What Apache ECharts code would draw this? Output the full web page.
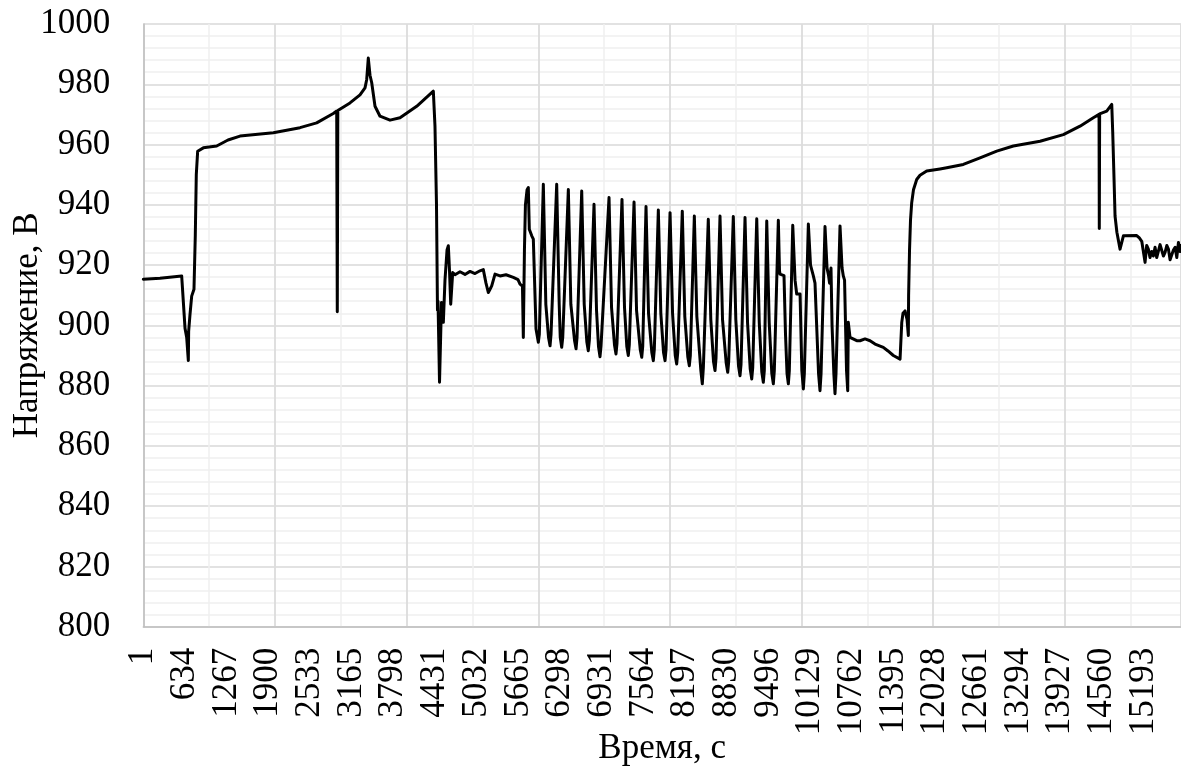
<!DOCTYPE html>
<html>
<head>
<meta charset="utf-8">
<script src="https://cdn.jsdelivr.net/npm/echarts@6/dist/echarts.min.js"></script>
<style>
html,body{margin:0;padding:0;background:#fff;}
#chart{width:1181px;height:774px;}
</style>
</head>
<body>
<div id="chart"></div>
<script>
// Category labels shown on the x axis (every 633rd sample)
const xTickLabels = ['1','634','1267','1900','2533','3165','3798','4431','5032','5665','6298','6931','7564','8197','8830','9496','10129','10762','11395','12028','12661','13294','13927','14560','15193'];
const labelStep = 633;
const sampleCount = 15764;

// Sample position (index along the category axis) of each traced point
const sampleIndex = [
0,254,583,634,659,684,689,709,735,770,790,805,826,912,1115,1287,1469,1975,2381,2634,2886,2938,2947,2955,3140,3292,3368,3394,3418,3444,3470,3520,3596,3748,3900,4153,4406,4431,4454,4469,4477,4500,4530,4558,4583,4614,4634,4652,4670,4700,4735,4811,4887,4963,5039,5115,5165,5206,5241,5267,5293,5343,5419,5510,5621,5692,5723,5760,
5773,5790,5805,5830,5849,5864,5901,5925,5966,6001,6016,
6077,6115,6156,6179,6194,
6280,6318,6334,6356,6372,
6457,6495,6551,6574,6589,
6660,6698,6738,6760,6776,
6847,6885,6915,6938,6953,
7075,7113,7158,7181,7196,
7272,7310,7345,7368,7383,
7455,7493,7549,7572,7587,
7637,7675,7725,7748,7763,
7824,7862,7903,7926,7941,
8002,8040,8081,8103,8119,
8188,8226,8272,8295,8310,
8371,8409,8470,8492,8508,
8583,8621,8662,8685,8700,
8761,8799,8855,8878,8893,
8963,9001,9042,9065,9080,
9141,9179,9220,9243,9258,
9319,9357,9396,9419,9434,
9471,9508,9548,9571,9586,
9647,9665,9673,9733,9756,9779,9799,9814,
9866,9901,9926,9977,10004,10027,10042,
10103,10136,10179,10204,10258,10280,10296,
10356,10387,10410,10425,10447,10463,10490,10508,10523,
10584,10615,10634,10653,10683,10701,10710,10736,10838,10888,10964,11040,11116,11242,11313,11394,11496,11522,11541,11572,11602,11622,11626,11640,11655,11673,11700,11749,11799,11901,12103,12205,12457,12711,12965,13217,13623,13977,14230,14432,14519,14523,14528,14636,14712,14727,14747,14762,14790,14838,14889,15091,15131,15168,15218,15243,15268,15293,15319,15344,15370,15395,15421,15446,15472,15497,15522,15548,15573,15598,15624,15649,15675,15700,15725,15750,15764
];

// Voltage, V, at each traced point
const voltage = [
915.3,915.6,916.4,899,896,888.3,898,903.5,909.7,912,930,950,957.8,958.9,959.5,961.5,962.8,963.9,965.6,967.2,970.3,971.1,904.5,971.3,973.8,976.5,978.8,981.6,988.7,983,980.5,972.7,969.4,968.1,968.9,972.7,977.7,966.1,940,905,908,881.1,907.6,901,915,925,926.4,918,907,917.5,916.8,917.8,916.9,917.9,917.2,918.1,918.5,914,910.9,912,913.1,917,916.4,916.8,915.9,915.2,913.7,913,
896,925,940,945,945.7,931.9,929.7,928.6,898.8,894.4,897,
946.8,907,896,893.2,897,
946.8,907,896,892.7,896,
945.1,907,895,892.2,896,
944.6,907,894.5,891.6,895,
940.2,905,893,889.6,893,
942.4,906,893.5,890.5,894,
941.8,906,893,890,893.5,
940.9,905,892,889.4,893,
939.4,904,891,888.3,892,
938.3,904,891,888.3,892,
937.4,904,890,887.2,891,
937.9,903,889.5,886.6,890,
936.3,903,885,880.6,886,
935.2,902,888,885,889,
936.3,902,887.5,884.4,888,
936.1,902,886.5,883.3,887,
935.8,901,885.5,882.2,886,
935.4,901,884.5,881.1,885,
934.6,901,884,880.6,885,
934.9,918,917,916.5,897,884,880.6,885,
933.2,915,910.4,910.4,885,878.9,884,
933.6,920,916.4,914,884,878.3,884,
932.8,919,916.5,914,919,900,884,877.3,884,
933,919,916.4,915,885,878.3,901,896,894.9,894.9,895.5,894.9,893.8,892.7,891.5,890,888.8,901,904,904.8,902,896.6,910,925,935,940.7,945,948.4,949.8,951.2,951.9,952.3,953.4,955.6,957.8,959.5,961.1,963.3,966.1,968.9,970,932.1,970.2,971.1,973.3,963.9,948.4,936.3,930.9,925.3,929.7,929.8,929,927.9,920.9,926.5,925.3,922.5,924.5,923,925.9,922.5,923.1,926.8,926.4,923,924.2,926.5,925.3,921.8,922,925,925.9,922.5,927.5,924.5,926.5
];

const yMin = 800, yMax = 1000, yStep = 20;

const points = sampleIndex.map((x, i) => [x, voltage[i]]);
const FONT = '"Liberation Serif", "Times New Roman", serif';

const chart = echarts.init(document.getElementById('chart'), null, {renderer: 'canvas'});
chart.setOption({
  animation: false,
  backgroundColor: '#ffffff',
  grid: {left: 143.3, right: 0, top: 24, bottom: 147.3, containLabel: false, outerBoundsMode: 'none'},
  xAxis: [
    {
      type: 'value', min: 0, max: sampleCount, interval: labelStep, position: 'bottom',
      name: 'Время, с', nameLocation: 'middle', nameGap: 105, nameMoveOverlap: false,
      nameTextStyle: {fontFamily: FONT, fontSize: 35, color: '#000'},
      axisLine: {show: true, lineStyle: {color: '#bfbfbf', width: 1.5}},
      axisTick: {show: false},
      splitLine: {show: false},
      axisLabel: {
        rotate: 90, margin: 21, fontFamily: FONT, fontSize: 35, color: '#000',
        showMaxLabel: false,
        formatter: v => (v % labelStep === 0 && xTickLabels[v / labelStep] !== undefined) ? xTickLabels[v / labelStep] : ''
      }
    },
    {
      type: 'value', min: 0, max: sampleCount, interval: 1000, position: 'bottom',
      axisLine: {show: false}, axisTick: {show: false}, axisLabel: {show: false},
      splitLine: {show: true, lineStyle: {color: '#efefef', width: 1.5}}
    },
    {
      type: 'value', min: 0, max: sampleCount, interval: 2000, position: 'bottom',
      axisLine: {show: false}, axisTick: {show: false}, axisLabel: {show: false},
      splitLine: {show: true, lineStyle: {color: '#d9d9d9', width: 1.5}}
    }
  ],
  yAxis: {
    type: 'value', min: yMin, max: yMax, interval: yStep,
    name: 'Напряжение, В', nameLocation: 'middle', nameGap: 98, nameMoveOverlap: false,
    nameTextStyle: {fontFamily: FONT, fontSize: 35, color: '#000'},
    axisLine: {show: true, lineStyle: {color: '#bfbfbf', width: 1.5}},
    axisTick: {show: false},
    axisLabel: {margin: 33, fontFamily: FONT, fontSize: 35, color: '#000', formatter: v => String(v)},
    splitLine: {show: true, lineStyle: {color: '#d9d9d9', width: 1.5}},
    minorTick: {show: false, splitNumber: 5},
    minorSplitLine: {show: true, lineStyle: {color: '#efefef', width: 1.5}}
  },
  series: [{
    type: 'line',
    xAxisIndex: 0,
    data: points,
    showSymbol: false,
    symbol: 'none',
    smooth: false,
    lineStyle: {color: '#000', width: 3, join: 'round', cap: 'round'},
    z: 5
  }]
});
</script>
</body>
</html>
